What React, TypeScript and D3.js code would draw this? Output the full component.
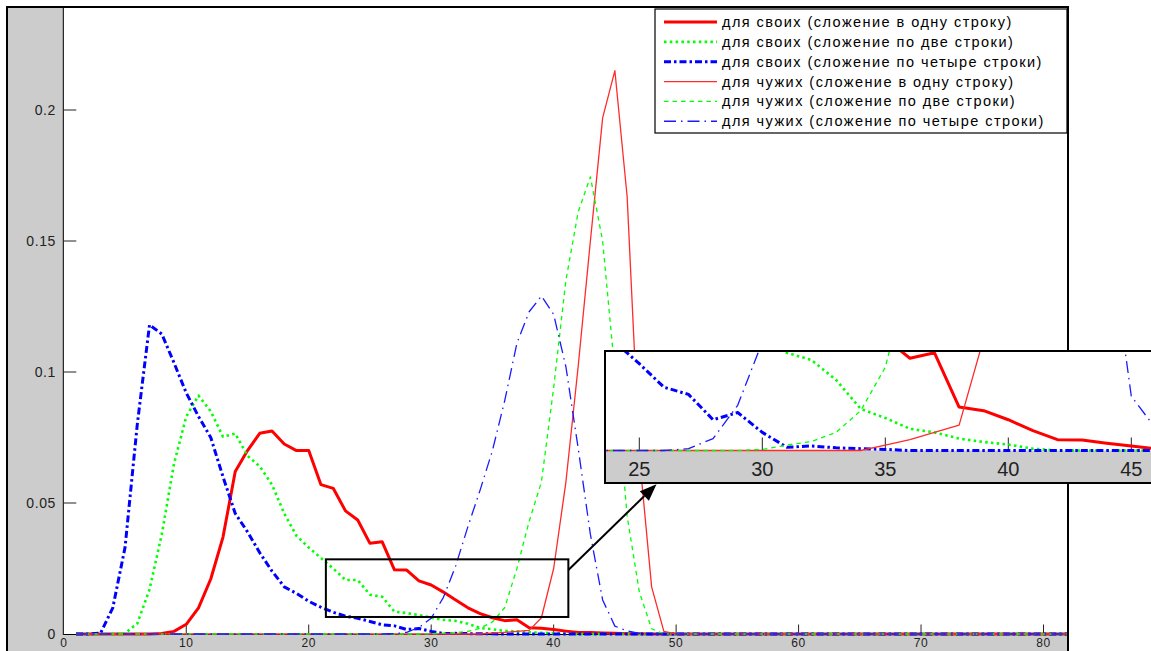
import React from 'react';
import * as d3 from 'd3';

// x positions 1..82
const xValues: number[] = d3.range(1, 83);

const ownOneRow = [
  0, 0, 0, 0, 0, 0, 0, 0.0002, 0.001, 0.0037,
  0.010, 0.021, 0.037, 0.062, 0.070, 0.0766, 0.0775, 0.0725, 0.070, 0.070,
  0.057, 0.0556, 0.047, 0.0435, 0.0346, 0.0352, 0.0245, 0.0244, 0.0203, 0.0187,
  0.016, 0.013, 0.010, 0.0078, 0.0062, 0.0051, 0.0054, 0.0024, 0.0022, 0.0017,
  0.0011, 0.0006, 0.00058, 0.0004, 0.00025, 0.0001, 0.00005, 0, 0, 0,
  0, 0, 0, 0, 0, 0, 0, 0, 0, 0,
  0, 0, 0, 0, 0, 0, 0, 0, 0, 0,
  0, 0, 0, 0, 0, 0, 0, 0, 0, 0,
  0, 0,
];

const ownTwoRows = [
  0, 0, 0, 0, 0.0003, 0.004, 0.017, 0.038, 0.065, 0.083,
  0.091, 0.085, 0.0753, 0.0765, 0.068, 0.064, 0.057, 0.046, 0.0375, 0.033,
  0.029, 0.025, 0.0206, 0.0206, 0.015, 0.0142, 0.0085, 0.008, 0.0072, 0.0062,
  0.0054, 0.0050, 0.0039, 0.0023, 0.0018, 0.0012, 0.0010, 0.00066, 0.00047, 0.00033,
  0.0001, 0, 0, 0, 0, 0, 0, 0, 0, 0,
  0, 0, 0, 0, 0, 0, 0, 0, 0, 0,
  0, 0, 0, 0, 0, 0, 0, 0, 0, 0,
  0, 0, 0, 0, 0, 0, 0, 0, 0, 0,
  0, 0,
];

const ownFourRows = [
  0, 0, 0.0003, 0.010, 0.033, 0.080, 0.118, 0.1145, 0.1035, 0.092,
  0.083, 0.075, 0.060, 0.046, 0.039, 0.031, 0.024, 0.018, 0.0155, 0.0125,
  0.0102, 0.0083, 0.0068, 0.0060, 0.0048, 0.0035, 0.0031, 0.0017, 0.0021, 0.0010,
  0.00018, 0.00025, 0.00015, 0.0001, 0.00006, 0, 0, 0, 0, 0,
  0, 0, 0, 0, 0, 0, 0, 0, 0, 0,
  0, 0, 0, 0, 0, 0, 0, 0, 0, 0,
  0, 0, 0, 0, 0, 0, 0, 0, 0, 0,
  0, 0, 0, 0, 0, 0, 0, 0, 0, 0,
  0, 0,
];

const foreignOneRow = [
  0, 0, 0, 0, 0, 0, 0, 0, 0, 0,
  0, 0, 0, 0, 0, 0, 0, 0, 0, 0,
  0, 0, 0, 0, 0, 0, 0, 0, 0, 0,
  0, 0, 0, 0, 0.0003, 0.0006, 0.001, 0.0014, 0.0062, 0.025,
  0.058, 0.102, 0.150, 0.197, 0.215, 0.167, 0.068, 0.018, 0.001, 0,
  0, 0, 0, 0, 0, 0, 0, 0, 0, 0,
  0, 0, 0, 0, 0, 0, 0, 0, 0, 0,
  0, 0, 0, 0, 0, 0, 0, 0, 0, 0,
  0, 0,
];

const foreignTwoRows = [
  0, 0, 0, 0, 0, 0, 0, 0, 0, 0,
  0, 0, 0, 0, 0, 0, 0, 0, 0, 0,
  0, 0, 0, 0, 0, 0, 0, 0, 0, 0.00006,
  0.0003, 0.0005, 0.001, 0.0022, 0.0046, 0.010, 0.025, 0.043, 0.058, 0.094,
  0.135, 0.161, 0.1745, 0.150, 0.100, 0.045, 0.016, 0.002, 0, 0,
  0, 0, 0, 0, 0, 0, 0, 0, 0, 0,
  0, 0, 0, 0, 0, 0, 0, 0, 0, 0,
  0, 0, 0, 0, 0, 0, 0, 0, 0, 0,
  0, 0,
];

const foreignFourRows = [
  0, 0, 0, 0, 0, 0, 0, 0, 0, 0,
  0, 0, 0, 0, 0, 0, 0, 0, 0, 0,
  0, 0, 0, 0, 0, 0, 0.0001, 0.00066, 0.0025, 0.0060,
  0.014, 0.026, 0.041, 0.055, 0.070, 0.089, 0.111, 0.123, 0.129, 0.122,
  0.102, 0.071, 0.038, 0.013, 0.003, 0.0012, 0.0002, 0, 0, 0,
  0, 0, 0, 0, 0, 0, 0, 0, 0, 0,
  0, 0, 0, 0, 0, 0, 0, 0, 0, 0,
  0, 0, 0, 0, 0, 0, 0, 0, 0, 0,
  0, 0,
];

const seriesLabels = [
  'для своих (сложение в одну строку)',
  'для своих (сложение по две строки)',
  'для своих (сложение по четыре строки)',
  'для чужих (сложение в одну строку)',
  'для чужих (сложение по две строки)',
  'для чужих (сложение по четыре строки)',
];

const yTicks = [0, 0.05, 0.1, 0.15, 0.2];
const yTickLabels = ['0', '0.05', '0.1', '0.15', '0.2'];
const xTicks = [0, 10, 20, 30, 40, 50, 60, 70, 80];
const insetTicks = [25, 30, 35, 40, 45];

// zoom annotation rectangle in data units
const zoomBoxX = [21.4, 41.2];
const zoomBoxY = [0.0065, 0.0285];
const arrowStart = [41.2, 0.0244];
const arrowTip = [48.4, 0.0572];

const styles = [
  { color: '#ff0000', width: 3, dash: null as string | null },
  { color: '#00ff00', width: 2.6, dash: '2.5,3.3' },
  { color: '#0000ff', width: 3, dash: '7,3,2.5,3' },
  { color: '#ff2a2a', width: 1.3, dash: null },
  { color: '#00ff00', width: 1.3, dash: '4.5,4' },
  { color: '#1a1aff', width: 1.3, dash: '12,5,1.5,5' },
];

const FONT = '"Liberation Sans", Arial, sans-serif';

export default function App() {
  const series = [ownOneRow, ownTwoRows, ownFourRows, foreignOneRow, foreignTwoRows, foreignFourRows];

  const W = 1151;
  const H = 651;
  const left = 63.8;
  const right = 1068;
  const bottom = 634;
  const top = 7;

  const x = d3.scaleLinear().domain([0, 82]).range([left, right]);
  const y = d3.scaleLinear().domain([0, 0.25]).range([bottom, bottom - 0.25 * 2620]);

  // inset
  const inL = 605;
  const inT = 351;
  const inBase = 450.5;
  const inB = 483;
  const xi = d3.scaleLinear().domain([25, 45]).range([639.3, 1131.3]);
  const yi = d3.scaleLinear().domain([0, 0.0055]).range([inBase, inT]);

  const mkLine = (xs: d3.ScaleLinear<number, number>, ys: d3.ScaleLinear<number, number>) =>
    d3.line<number>().x((_, i) => xs(xValues[i])).y((d) => ys(d));

  const mainLine = mkLine(x, y);
  const insetLine = mkLine(xi, yi);

  // arrow geometry
  const ax0 = x(arrowStart[0]);
  const ay0 = y(arrowStart[1]);
  const ax1 = x(arrowTip[0]);
  const ay1 = y(arrowTip[1]);
  const dx = ax1 - ax0;
  const dy = ay1 - ay0;
  const len = Math.hypot(dx, dy);
  const ux = dx / len;
  const uy = dy / len;
  const headL = 17;
  const headW = 6.5;
  const bx = ax1 - ux * headL;
  const by = ay1 - uy * headL;
  const headPts = [
    [ax1, ay1],
    [bx + -uy * headW, by + ux * headW],
    [bx - -uy * headW, by - ux * headW],
  ];

  const legX = 655;
  const legY = 9;
  const legW = 412;
  const legH = 124;
  const rowY = (i: number) => legY + 13 + i * 19.85;

  return (
    <svg
      width={W}
      height={H}
      style={{ position: 'fixed', left: 0, top: 0, background: '#ffffff' }}
      fontFamily={FONT}
    >
      <defs>
        <clipPath id="mainClip">
          <rect x={left} y={top} width={right - left} height={bottom - top + 2.5} />
        </clipPath>
        <clipPath id="insetClip">
          <rect x={inL} y={inT} width={W - inL + 20} height={inBase - inT + 2} />
        </clipPath>
      </defs>

      {/* figure background */}
      <rect x={7} y={7} width={right - 7} height={H - 7} fill="#cccccc" />
      {/* axes background */}
      <rect x={left} y={top} width={right - left} height={bottom - top} fill="#ffffff" />

      {/* y ticks */}
      {yTicks.map((t, i) => (
        <g key={'yt' + i}>
          {i > 0 && <line x1={left} x2={left + 12.5} y1={y(t)} y2={y(t)} stroke="#222" strokeWidth={1} />}
          <text
            x={56}
            y={y(t)}
            textAnchor="end"
            dominantBaseline="central"
            fontSize={14}
            letterSpacing={0.6}
            fill="#222"
          >
            {yTickLabels[i]}
          </text>
        </g>
      ))}
      {/* x ticks */}
      {xTicks.map((t) => (
        <g key={'xt' + t}>
          {t > 0 && <line x1={x(t)} x2={x(t)} y1={bottom} y2={bottom - 9.5} stroke="#222" strokeWidth={1} />}
          <text x={x(t)} y={647} textAnchor="middle" fontSize={12} letterSpacing={0.6} fill="#222">
            {t}
          </text>
        </g>
      ))}

      {/* axes lines */}
      <line x1={left - 0.5} x2={left - 0.5} y1={top} y2={bottom + 1} stroke="#000" strokeWidth={1} />
      <line x1={left} x2={right} y1={bottom + 0.5} y2={bottom + 0.5} stroke="#000" strokeWidth={1} />

      {/* data lines */}
      <g clipPath="url(#mainClip)">
        {series.map((s, i) => (
          <path
            key={'s' + i}
            d={mainLine(s) || ''}
            fill="none"
            stroke={styles[i].color}
            strokeWidth={styles[i].width}
            strokeDasharray={styles[i].dash || undefined}
            strokeLinejoin="round"
          />
        ))}
      </g>

      {/* zoom box & arrow */}
      <rect
        x={x(zoomBoxX[0])}
        y={y(zoomBoxY[1])}
        width={x(zoomBoxX[1]) - x(zoomBoxX[0])}
        height={y(zoomBoxY[0]) - y(zoomBoxY[1])}
        fill="none"
        stroke="#000"
        strokeWidth={2}
      />
      <line x1={ax0} y1={ay0} x2={bx} y2={by} stroke="#000" strokeWidth={2} />
      <polygon points={headPts.map((p) => p.join(',')).join(' ')} fill="#000" />

      {/* legend */}
      <rect x={legX} y={legY} width={legW} height={legH} fill="#ffffff" stroke="#000" strokeWidth={1.2} />
      {seriesLabels.map((lab, i) => (
        <g key={'lg' + i}>
          <line
            x1={legX + 9}
            x2={legX + 62}
            y1={rowY(i)}
            y2={rowY(i)}
            stroke={styles[i].color}
            strokeWidth={styles[i].width}
            strokeDasharray={styles[i].dash || undefined}
          />
          <text
            x={legX + 67}
            y={rowY(i)}
            dominantBaseline="central"
            fontSize={14.5}
            letterSpacing={1.45}
            fill="#000"
          >
            {lab}
          </text>
        </g>
      ))}

      {/* frame */}
      <path d={`M7,${H} V7 H${right} V${H}`} fill="none" stroke="#000" strokeWidth={2} />

      {/* inset */}
      <rect x={inL} y={inT} width={W - inL + 20} height={inB - inT} fill="#cccccc" />
      <rect x={inL} y={inT} width={W - inL + 20} height={inBase - inT} fill="#ffffff" />
      {insetTicks.map((t) => (
        <g key={'it' + t}>
          <line x1={xi(t)} x2={xi(t)} y1={inBase} y2={inBase - 13} stroke="#222" strokeWidth={1} />
          <text x={xi(t)} y={476} textAnchor="middle" fontSize={20} fill="#222">
            {t}
          </text>
        </g>
      ))}
      <g clipPath="url(#insetClip)">
        {series.map((s, i) => (
          <path
            key={'is' + i}
            d={insetLine(s) || ''}
            fill="none"
            stroke={styles[i].color}
            strokeWidth={styles[i].width}
            strokeDasharray={styles[i].dash || undefined}
            strokeLinejoin="round"
          />
        ))}
      </g>
      <rect x={inL} y={inT} width={W - inL + 20} height={inB - inT} fill="none" stroke="#000" strokeWidth={2} />
    </svg>
  );
}
